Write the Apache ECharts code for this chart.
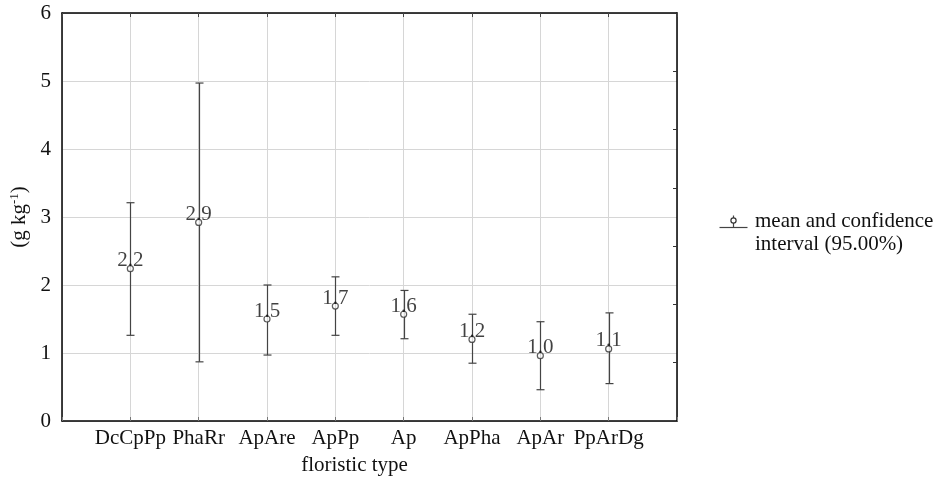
<!DOCTYPE html>
<html>
<head>
<meta charset="utf-8">
<script src="https://cdn.jsdelivr.net/npm/echarts@6/dist/echarts.min.js"></script>
<style>
  html, body { margin: 0; padding: 0; background: #fff; }
  #chart { width: 940px; height: 478px; }
</style>
</head>
<body>
<div id="chart"></div>
<script>
// floristic types, mean and 95% confidence interval (g kg-1)
var categories = ['DcCpPp', 'PhaRr', 'ApAre', 'ApPp', 'Ap', 'ApPha', 'ApAr', 'PpArDg']
var means = [2.24, 2.92, 1.50, 1.69, 1.57, 1.20, 0.96, 1.06]
var lower = [1.26, 0.87, 0.97, 1.26, 1.21, 0.85, 0.46, 0.55]
var upper = [3.21, 4.97, 2.00, 2.12, 1.92, 1.57, 1.46, 1.59]
var yTicks = [0, 1, 2, 3, 4, 5, 6]

var FONT = '"Liberation Serif", "Times New Roman", serif'
var INK = '#111'
var GRID_LINE = '#d6d6d6'

var meanData = means.map(function (m, i) { return [i + 1, m] })
var barData = means.map(function (m, i) { return [i + 1, lower[i], upper[i]] })

var chart = echarts.init(document.getElementById('chart'))

chart.setOption({
  animation: false,
  backgroundColor: '#fff',
  textStyle: { fontFamily: FONT },
  grid: { left: 62, right: 263, top: 13, bottom: 57, outerBoundsMode: 'none', containLabel: false },
  xAxis: [{
    type: 'value',
    min: 0,
    max: 9,
    interval: 1,
    name: 'floristic type',
    nameLocation: 'middle',
    nameGap: 34,
    nameTextStyle: { fontSize: 21, color: INK, fontFamily: FONT, padding: [0, 30, 0, 0] },
    axisLine: { lineStyle: { color: '#000', width: 1.5 } },
    axisTick: { show: true, inside: true, length: 4, lineStyle: { color: '#777' } },
    axisLabel: {
      fontSize: 21,
      color: INK,
      fontFamily: FONT,
      margin: 7,
      formatter: function (v) { return categories[v - 1] || '' }
    },
    splitLine: { show: true, lineStyle: { color: GRID_LINE, width: 1 } }
  }, {
    type: 'value',
    position: 'top',
    min: 0,
    max: 9,
    interval: 1,
    axisLine: { show: true, onZero: false, lineStyle: { color: '#000', width: 1.5 } },
    axisTick: { show: true, inside: true, length: 4, lineStyle: { color: '#444' } },
    axisLabel: { show: false },
    splitLine: { show: false }
  }],
  yAxis: [{
    type: 'value',
    min: yTicks[0],
    max: yTicks[yTicks.length - 1],
    interval: 1,
    name: '(g kg{sup|-1})',
    nameLocation: 'middle',
    nameRotate: 90,
    nameGap: 31,
    nameTextStyle: {
      fontSize: 21,
      color: INK,
      fontFamily: FONT,
      rich: {
        sup: { fontSize: 13, fontFamily: FONT, color: INK, verticalAlign: 'top', padding: [0, 0, 10, 0] }
      }
    },
    axisLine: { show: true, onZero: false, lineStyle: { color: '#000', width: 1.5 } },
    axisTick: { show: false },
    axisLabel: { fontSize: 21, color: INK, fontFamily: FONT, margin: 11 },
    splitLine: { show: true, lineStyle: { color: GRID_LINE, width: 1 } }
  }, {
    type: 'value',
    position: 'right',
    min: 0,
    max: 7,
    interval: 1,
    axisLine: { show: true, onZero: false, lineStyle: { color: '#000', width: 1.5 } },
    axisTick: { show: true, inside: true, length: 4, lineStyle: { color: '#333' } },
    axisLabel: { show: false },
    splitLine: { show: false }
  }],
  series: [{
    type: 'custom',
    name: 'ci',
    xAxisIndex: 0,
    yAxisIndex: 0,
    data: barData,
    z: 3,
    renderItem: function (params, api) {
      var lo = api.coord([api.value(0), api.value(1)])
      var hi = api.coord([api.value(0), api.value(2)])
      var x = Math.round(lo[0]) + 0.5
      var cap = 4
      var style = { stroke: '#444', lineWidth: 1.2 }
      return {
        type: 'group',
        children: [
          { type: 'line', shape: { x1: x, y1: lo[1], x2: x, y2: hi[1] }, style: style },
          { type: 'line', shape: { x1: x - cap, y1: lo[1], x2: x + cap, y2: lo[1] }, style: style },
          { type: 'line', shape: { x1: x - cap, y1: hi[1], x2: x + cap, y2: hi[1] }, style: style }
        ]
      }
    }
  }, {
    type: 'scatter',
    name: 'mean',
    xAxisIndex: 0,
    yAxisIndex: 0,
    data: meanData,
    z: 4,
    symbol: 'circle',
    symbolSize: 6,
    itemStyle: { color: '#fff', borderColor: '#333', borderWidth: 1.2 },
    label: {
      show: true,
      position: 'inside',
      offset: [0, -8],
      fontSize: 21,
      color: '#111',
      fontFamily: FONT,
      formatter: function (p) { return p.value[1].toFixed(1) }
    }
  }],
  graphic: [{
    type: 'group',
    left: 717,
    top: 213,
    children: [
      { type: 'line', shape: { x1: 0, y1: 16, x2: 28, y2: 16 }, style: { stroke: '#444', lineWidth: 1.2 } },
      { type: 'line', shape: { x1: 14, y1: 4, x2: 14, y2: 16 }, style: { stroke: '#444', lineWidth: 1.2 } },
      { type: 'circle', shape: { cx: 14, cy: 9, r: 2.6 }, style: { fill: '#fff', stroke: '#333', lineWidth: 1.2 } }
    ]
  }, {
    type: 'text',
    left: 755,
    top: 210,
    style: {
      text: 'mean and confidence\ninterval (95.00%)',
      fontSize: 21,
      lineHeight: 23,
      fontFamily: FONT,
      fill: INK
    }
  }]
})
</script>
</body>
</html>
